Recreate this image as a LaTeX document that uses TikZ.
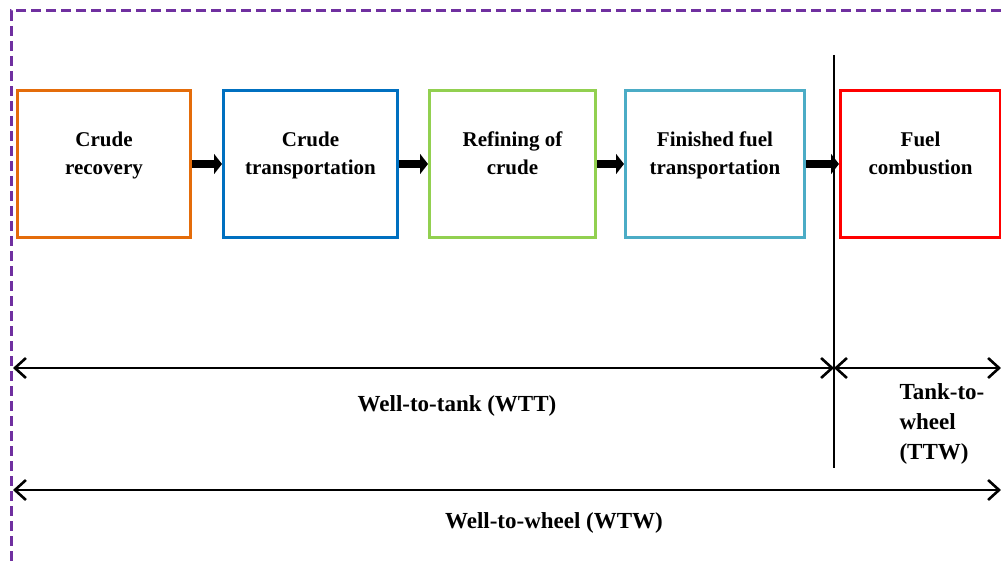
\documentclass[tikz,border=0pt]{standalone}
\usepackage{fontspec}
\setmainfont{Liberation Serif}
\usetikzlibrary{positioning,arrows.meta}
\definecolor{recorange}{RGB}{228,108,10}
\definecolor{transblue}{RGB}{0,112,192}
\definecolor{refgreen}{RGB}{146,208,80}
\definecolor{fuelcyan}{RGB}{75,172,198}
\definecolor{bordpurple}{RGB}{112,48,160}
\tikzset{node distance=30pt, auto,
  stage/.style={draw, line width=3pt, minimum height=147pt, align=center,
    text depth=22pt, font=\fontsize{21}{28}\selectfont\bfseries},
  fat/.style={line width=8pt, -{Triangle[length=8pt,width=20pt]}},
  span/.style={line width=2.6pt, {Straight Barb[length=11pt,width=20pt]}-{Straight Barb[length=11pt,width=20pt]}},
  lbl/.style={font=\fontsize{23}{30}\selectfont\bfseries}}

\begin{document}
\begin{tikzpicture}[x=1pt,y=-1pt]
  \useasboundingbox (0,0) rectangle (1001,564);
  \draw[bordpurple, line width=3pt, dash pattern=on 10pt off 5pt] (1001,11) -- (11,11) -- (11,564);

  \node (crec) [stage, draw=recorange, minimum width=173pt] at (104,164) {Crude\\recovery};
  \node (ctrans) [stage, draw=transblue, minimum width=174pt, right=30pt of crec] {Crude\\transportation};
  \node (refin) [stage, draw=refgreen, minimum width=166pt, right=29pt of ctrans] {Refining of\\crude};
  \node (fftrans) [stage, draw=fuelcyan, minimum width=179pt, right=27pt of refin] {Finished fuel\\transportation};
  \node (fcomb) [stage, draw=red, minimum width=160pt, right=33pt of fftrans] {Fuel\\combustion};

  \draw[fat] (crec) -- (ctrans);
  \draw[fat] (ctrans) -- (refin);
  \draw[fat] (refin) -- (fftrans);
  \draw[fat] (fftrans) -- (fcomb);

  % tank boundary
  \coordinate (vtop) at (834,55);
  \coordinate (vbot) at (834,468);
  \draw[line width=2.6pt] (vtop) -- (vbot);

  \coordinate (wttl) at (13,368);
  \coordinate (wttr) at (834,368);
  \coordinate (ttwr) at (1001,368);
  \coordinate (wtwl) at (13,490);
  \coordinate (wtwr) at (1001,490);
  \draw[span] (wttl) -- (wttr);
  \draw[span] (wttr) -- (ttwr);
  \draw[span] (wtwl) -- (wtwr);

  \node (wtt) [lbl] at (457,406) {Well-to-tank (WTT)};
  \node (ttw) [lbl, align=left, anchor=north west] at (896,380) {Tank-to-\\wheel\\(TTW)};
  \node (wtw) [lbl] at (554,523) {Well-to-wheel (WTW)};
\end{tikzpicture}
\end{document}
